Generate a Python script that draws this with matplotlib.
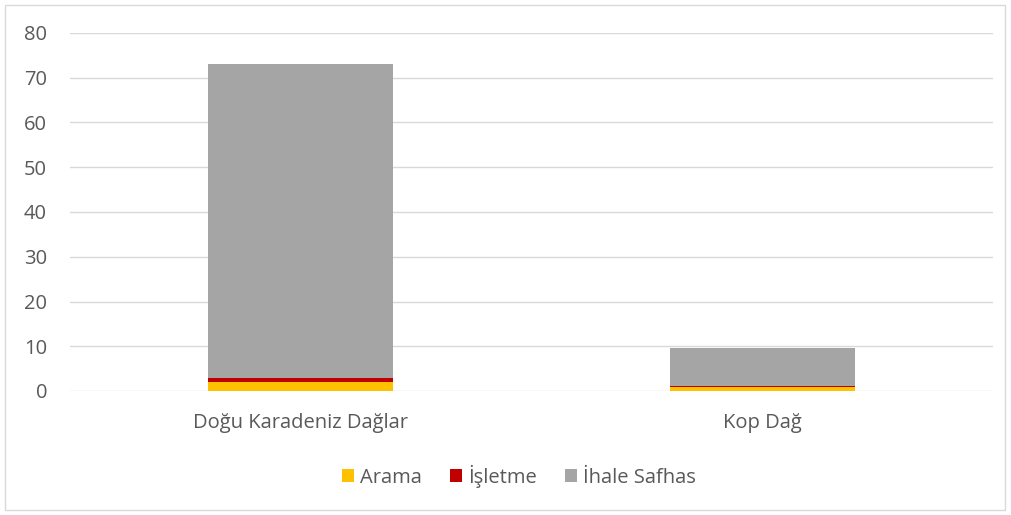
import matplotlib.pyplot as plt
from matplotlib.patches import Rectangle
import numpy as np

plt.rcParams['font.family'] = ['Open Sans', 'DejaVu Sans']

categories = ["Doğu Karadeniz Dağlar", "Kop Dağ"]
arama = [2.0, 1.0]
isletme = [1.0, 0.15]
ihale = [70.0, 8.45]
series_names = ["Arama", "İşletme", "İhale Safhas"]
colors = ["#FFC000", "#C00000", "#A5A5A5"]
yticks = [0, 10, 20, 30, 40, 50, 60, 70, 80]

fig = plt.figure(figsize=(10.11, 5.15), dpi=100)
ax = fig.add_axes([70 / 1011, 1 - 391 / 515, 923 / 1011, 358 / 515])

x = np.arange(len(categories))
bottom = np.zeros(len(categories))
for vals, name, c in zip([arama, isletme, ihale], series_names, colors):
    ax.bar(x, vals, width=0.4, bottom=bottom, color=c, label=name, zorder=3)
    bottom += np.array(vals)

ax.set_xlim(-0.5, 1.5)
ax.set_ylim(0, 80)
ax.set_yticks(yticks)
ax.set_xticks(x)
ax.set_xticklabels(categories)
ax.tick_params(axis='both', length=0, labelsize=14.5, colors="#595959")
ax.tick_params(axis='x', pad=16)
ax.tick_params(axis='y', pad=16.5)
ax.grid(axis='y', color="#D9D9D9", linewidth=1, zorder=0)
for s in ax.spines.values():
    s.set_visible(False)

leg = fig.legend(loc='center', bbox_to_anchor=(519 / 1011, 1 - 476 / 515), ncol=3,
                 frameon=False, fontsize=14.5, handlelength=0.6, handleheight=0.6,
                 handletextpad=0.3, columnspacing=1.4)
for t in leg.get_texts():
    t.set_color("#595959")

fig.patches.append(Rectangle((5 / 1011, 5 / 515), 1000 / 1011, 505 / 515,
                             transform=fig.transFigure, fill=False,
                             edgecolor="#D9D9D9", linewidth=1))

fig.savefig("out.png", dpi=100)
